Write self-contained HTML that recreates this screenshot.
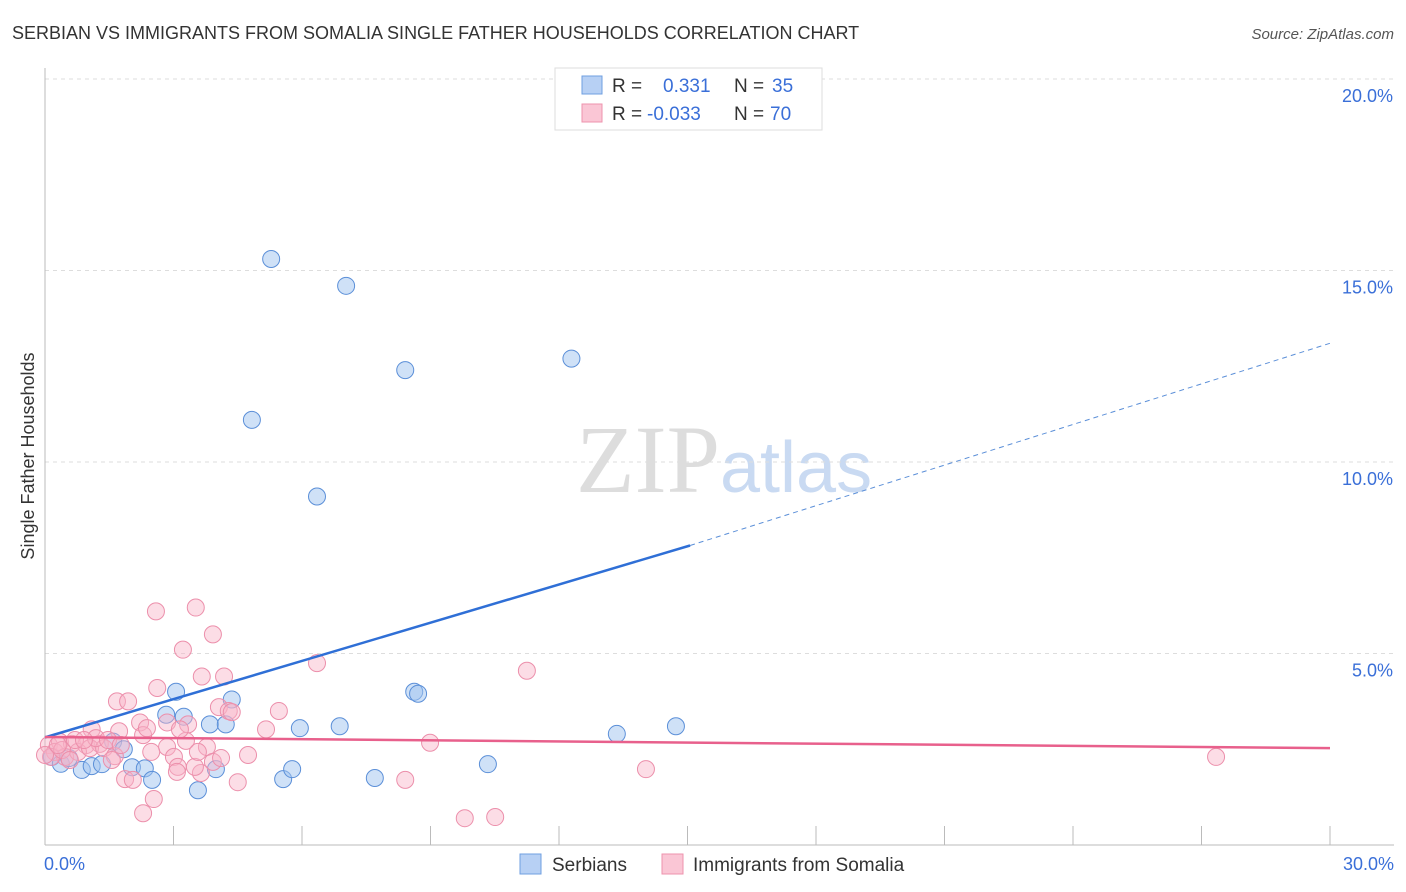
<!DOCTYPE html>
<html><head><meta charset="utf-8"><style>
body{margin:0;background:#fff;font-family:"Liberation Sans",sans-serif;}
svg{display:block}
</style></head><body>
<svg width="1406" height="892" xmlns="http://www.w3.org/2000/svg" id="chart">
<text x="12" y="39" font-size="18" fill="#333">SERBIAN VS IMMIGRANTS FROM SOMALIA SINGLE FATHER HOUSEHOLDS CORRELATION CHART</text>
<text x="1394" y="39" font-size="15" fill="#555" font-style="italic" text-anchor="end">Source: ZipAtlas.com</text>
<text x="34" y="456" font-size="18" fill="#333" text-anchor="middle" transform="rotate(-90 34 456)">Single Father Households</text>
<text x="720" y="492" font-size="96" fill="#ddd" font-family="Liberation Serif,serif" text-anchor="end">ZIP</text>
<text x="720" y="492" font-size="72" fill="#c9daf2">atlas</text>
<g id="grid"></g><g id="axes"></g><g id="marks"></g>
<g>
<rect x="555" y="68" width="267" height="62" fill="#fff" stroke="#ddd"/>
<rect x="582" y="76" width="20" height="18" fill="#b7d0f4" stroke="#6f9fe0"/>
<text x="612" y="92" font-size="19" fill="#333">R =</text><text x="663" y="92" font-size="19" fill="#3a6fd8">0.331</text>
<text x="734" y="92" font-size="19" fill="#333">N =</text><text x="772" y="92" font-size="19" fill="#3a6fd8">35</text>
<rect x="582" y="104" width="20" height="18" fill="#fac6d5" stroke="#ee93ad"/>
<text x="612" y="120" font-size="19" fill="#333">R =</text><text x="647" y="120" font-size="19" fill="#3a6fd8">-0.033</text>
<text x="734" y="120" font-size="19" fill="#333">N =</text><text x="770" y="120" font-size="19" fill="#3a6fd8">70</text>
</g>
<g>
<rect x="520" y="854" width="21" height="20" fill="#b7d0f4" stroke="#6f9fe0"/>
<text x="552" y="871" font-size="19" fill="#333">Serbians</text>
<rect x="662" y="854" width="21" height="20" fill="#fac6d5" stroke="#ee93ad"/>
<text x="693" y="871" font-size="19" fill="#333">Immigrants from Somalia</text>
</g>
</svg>
<script>
const yTicks=[5,10,15,20];
const xTickLabels=["0.0%","30.0%"];
const serbX=[5.28,7.03,8.41,12.29,4.83,6.35,3.06,4.36,8.62,8.71,2.83,3.24,3.85,4.22,5.95,6.88,13.35,14.73,1.59,1.84,0.16,0.37,0.56,0.86,1.09,1.33,2.03,2.33,2.50,3.57,3.99,5.56,5.77,7.70,10.34];
const serbY=[15.3,14.6,12.4,12.7,11.1,9.1,4.0,3.8,4.0,3.95,3.4,3.35,3.15,3.15,3.05,3.1,2.9,3.1,2.7,2.5,2.3,2.12,2.27,1.96,2.06,2.11,2.03,2.0,1.7,1.43,1.98,1.72,1.98,1.75,2.11];
const somX=[2.59,3.52,3.92,3.22,6.35,11.25,3.66,4.18,2.62,1.68,1.94,4.06,5.46,4.29,2.22,2.85,3.34,1.09,5.16,1.73,2.29,3.29,3.78,2.85,8.99,4.74,2.48,3.92,0.09,0.35,0.63,0.96,1.28,0.23,0.47,0.77,1.05,1.38,1.63,3.01,3.10,3.64,3.08,1.87,2.05,4.50,8.41,14.03,27.34,2.54,2.29,9.80,10.51,0.14,0.40,0.70,1.19,1.47,1.56,3.50,4.11,0,0.91,0.30,0.58,1.77,4.36,2.38,3.15,3.57];
const somY=[6.1,6.2,5.5,5.1,4.75,4.55,4.4,4.4,4.1,3.75,3.75,3.6,3.5,3.5,3.2,3.2,3.15,3.02,3.02,2.97,2.87,2.72,2.56,2.56,2.67,2.35,2.43,2.17,2.61,2.69,2.64,2.61,2.64,2.43,2.30,2.43,2.53,2.53,2.32,2.30,2.04,1.88,1.91,1.72,1.70,1.64,1.70,1.98,2.3,1.2,0.83,0.70,0.73,2.30,2.48,2.74,2.79,2.74,2.22,2.04,2.27,2.35,2.74,2.61,2.22,2.61,3.47,3.05,3.02,2.43];
const X0=45,X1=1330,Y0=845,PX=38.3;
const sx=v=>X0+(v/30)*(X1-X0), sy=v=>Y0-v*PX;
const NS="http://www.w3.org/2000/svg";
function mk(tag,attrs,parent){const e=document.createElementNS(NS,tag);for(const k in attrs)e.setAttribute(k,attrs[k]);document.getElementById(parent).appendChild(e);return e;}
yTicks.forEach(t=>{
 const l=mk("line",{x1:X0,x2:1394,y1:sy(t),y2:sy(t),stroke:"#ddd","stroke-dasharray":"4 4"},"grid");
 
 
 const tx=mk("text",{x:1393,y:sy(t)+23,"font-size":18,fill:"#3a6fd8","text-anchor":"end"},"grid");
 tx.textContent=t.toFixed(1)+"%";
 
 
});
const ax=mk("line",{x1:X0,x2:X0,y1:68,y2:Y0,stroke:"#bbb"},"axes");


const bx=mk("line",{x1:X0,x2:1394,y1:Y0,y2:Y0,stroke:"#bbb"},"axes");


for(let i=1;i<=10;i++){const x=X0+i*(X1-X0)/10;const t=mk("line",{x1:x,x2:x,y1:826,y2:Y0,stroke:"#bbb"},"axes");
 
 }
[[X0-1,"start",0],[1394,"end",1]].forEach(([x,a,i])=>{const t=mk("text",{x:x,y:870,"font-size":18,fill:"#3a6fd8","text-anchor":a},"axes");t.textContent=xTickLabels[i];
 
 });
serbX.forEach((v,i)=>{const c=mk("circle",{cx:sx(v),cy:sy(serbY[i]),r:8.5,fill:"rgba(160,195,240,0.5)",stroke:"#5b8fd8","stroke-width":1},"marks");
 
 });
somX.forEach((v,i)=>{const c=mk("circle",{cx:sx(v),cy:sy(somY[i]),r:8.5,fill:"rgba(248,180,200,0.45)",stroke:"#ec8fab","stroke-width":1},"marks");
 
 });
const b1=mk("line",{x1:sx(0),y1:sy(2.81),x2:sx(15.06),y2:sy(7.82),stroke:"#2f6fd6","stroke-width":2.5},"marks");


const b2=mk("line",{x1:sx(15.06),y1:sy(7.82),x2:sx(30),y2:sy(13.1),stroke:"#5b8fd8","stroke-width":1,"stroke-dasharray":"5 4"},"marks");


const p1=mk("line",{x1:sx(0),y1:sy(2.82),x2:sx(30),y2:sy(2.53),stroke:"#e8608c","stroke-width":2.5},"marks");


</script>
</body></html>
